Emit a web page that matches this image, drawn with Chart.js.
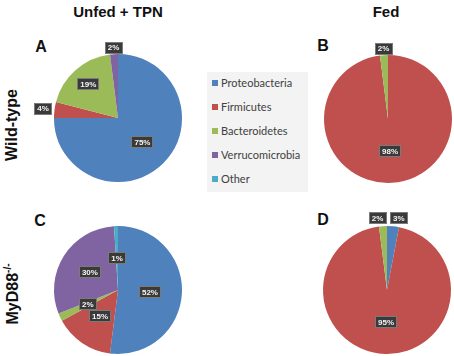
<!DOCTYPE html>
<html>
<head>
<meta charset="utf-8">
<script src="https://cdn.jsdelivr.net/npm/chart.js@4"></script>
<style>
  html, body { margin: 0; padding: 0; background: #fff; overflow: hidden; }
  body { width: 454px; height: 356px; position: relative; font-family: "Liberation Sans", Arial, sans-serif; }
  canvas { position: absolute; }
  .title { position: absolute; font-weight: bold; font-size: 15px; color: #111; transform: translateX(-50%); white-space: nowrap; }
  .letter { position: absolute; font-weight: bold; font-size: 16px; color: #111; transform: translate(-50%, -50%); }
  .rowlabel { position: absolute; font-weight: bold; font-size: 16px; color: #111; white-space: nowrap;
              transform: translate(-50%, -50%) rotate(-90deg); }
  .rowlabel sup { font-size: 10px; }
  #legend { position: absolute; left: 207px; top: 72px; width: 101px; height: 120px; background: #f3f3f3; }
  .item { position: absolute; left: 5px; font-family: Lato, "Open Sans", sans-serif; font-size: 11px; color: #404040; white-space: nowrap; }
  .item span { display: inline-block; width: 6px; height: 6px; margin-right: 3px; vertical-align: 1px; }
</style>
</head>
<body>
<div class="title" style="left:118px; top:3px;">Unfed + TPN</div>
<div class="title" style="left:386px; top:3px;">Fed</div>
<div class="letter" style="left:41px; top:47px;">A</div>
<div class="letter" style="left:323px; top:46px;">B</div>
<div class="letter" style="left:40px; top:221px;">C</div>
<div class="letter" style="left:323px; top:220px;">D</div>
<div class="rowlabel" style="left:12px; top:125px;">Wild-type</div>
<div class="rowlabel" style="left:12px; top:294px;">MyD88<sup>-/-</sup></div>
<div id="legend"></div>

<canvas id="pieA" width="180" height="180" style="left:28px; top:28px;"></canvas>
<canvas id="pieB" width="180" height="180" style="left:298px; top:29px;"></canvas>
<canvas id="pieC" width="180" height="180" style="left:28px; top:200px;"></canvas>
<canvas id="pieD" width="180" height="180" style="left:297px; top:200px;"></canvas>

<script>
// phyla shown in every pie
const categories = ['Proteobacteria', 'Firmicutes', 'Bacteroidetes', 'Verrucomicrobia', 'Other'];

// percent of reads per phylum
const wildTypeUnfed = [75, 4, 19, 2, 0];
const wildTypeFed = [0, 98, 2, 0, 0];
const myd88Unfed = [52, 15, 2, 30, 1];
const myd88Fed = [3, 95, 2, 0, 0];

const phylumColors = ['#4f81bd', '#c0504d', '#9bbb59', '#8064a2', '#4bacc6'];

// build the legend from the categories
const legend = document.getElementById('legend');
categories.forEach((name, i) => {
  const div = document.createElement('div');
  div.className = 'item';
  div.style.top = (4 + i * 24) + 'px';
  div.innerHTML = '<span style="background:' + phylumColors[i] + '"></span>' + name;
  legend.appendChild(div);
});

// Excel style data labels: dark box, white text
const boxLabels = {
  id: 'boxLabels',
  afterDatasetsDraw(chart, args, opts) {
    const ctx = chart.ctx;
    const values = chart.data.datasets[0].data;
    const nudge = opts.nudge || [];
    chart.getDatasetMeta(0).data.forEach((arc, i) => {
      if (!values[i]) return;
      const mid = (arc.startAngle + arc.endAngle) / 2;
      const r = arc.outerRadius * opts.radius[i];
      const x = arc.x + Math.cos(mid) * r + (nudge[i] || 0);
      const y = arc.y + Math.sin(mid) * r;
      const text = values[i] + '%';
      ctx.save();
      ctx.font = 'bold 8px "Liberation Sans", Arial, sans-serif';
      const w = ctx.measureText(text).width + 6;
      const h = 12;
      ctx.fillStyle = '#3a3a3a';
      ctx.strokeStyle = '#7a7a7a';
      ctx.lineWidth = 1;
      ctx.fillRect(Math.round(x - w / 2), Math.round(y - h / 2), Math.round(w), h);
      ctx.strokeRect(Math.round(x - w / 2) + 0.5, Math.round(y - h / 2) + 0.5, Math.round(w) - 1, h - 1);
      ctx.fillStyle = '#f4f4f4';
      ctx.textAlign = 'center';
      ctx.textBaseline = 'middle';
      ctx.fillText(text, x, y + 0.5);
      ctx.restore();
    });
  }
};

function makePie(id, values, labelRadius, labelNudge) {
  return new Chart(document.getElementById(id), {
    type: 'pie',
    data: {
      labels: categories,
      datasets: [{
        data: values,
        backgroundColor: phylumColors,
        borderWidth: 0
      }]
    },
    options: {
      responsive: false,
      animation: false,
      layout: { padding: 26 },
      plugins: {
        legend: { display: false },
        tooltip: { enabled: false },
        boxLabels: { radius: labelRadius, nudge: labelNudge }
      }
    },
    plugins: [boxLabels]
  });
}

makePie('pieA', wildTypeUnfed, [0.54, 1.18, 0.7, 1.1, 0]);
makePie('pieB', wildTypeFed, [0, 0.5, 1.1, 0, 0]);
makePie('pieC', myd88Unfed, [0.5, 0.5, 0.52, 0.52, 0.5]);
makePie('pieD', myd88Fed, [1.13, 0.5, 1.13, 0, 0], [5, 0, -5]);
</script>
</body>
</html>
